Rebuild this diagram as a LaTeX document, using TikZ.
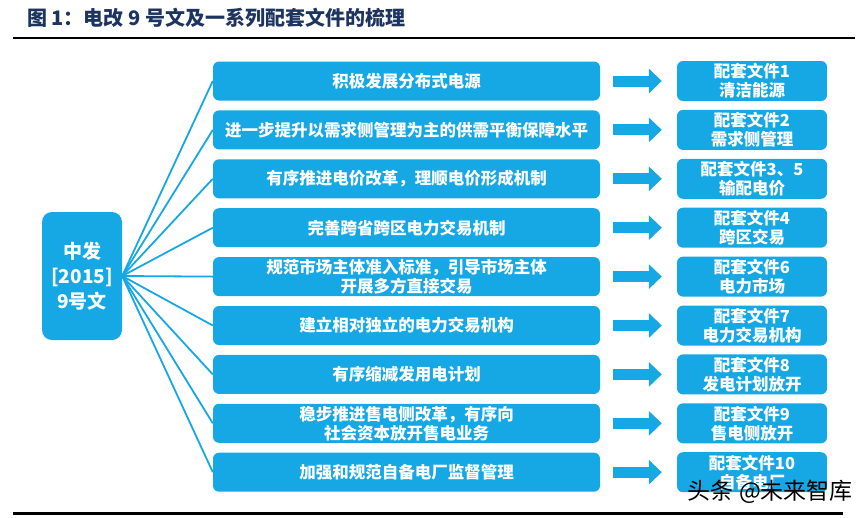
\documentclass[tikz,border=0pt]{standalone}
\usepackage{fontspec}
\newfontfamily\cjk{Noto Sans CJK SC}
\usetikzlibrary{arrows.meta}
\definecolor{boxblue}{RGB}{22,168,228}
\definecolor{titlenavy}{RGB}{30,52,96}

\begin{document}
\begin{tikzpicture}[x=1pt, y=-1pt,
    task/.style={rectangle, rounded corners=6pt, fill=boxblue, text=white,
        minimum width=387pt, minimum height=39pt, inner sep=0pt, align=center,
        font=\cjk\bfseries\fontsize{16.5}{19}\selectfont},
    doc/.style={task, minimum width=150pt, minimum height=40pt},
    link/.style={boxblue, line width=1.8pt},
    fat/.style={boxblue, line width=11pt, -{Triangle[length=13pt, width=24pt]}}]
    \useasboundingbox (0,0) rectangle (866,517);

    \node [anchor=west, inner sep=0pt, text=titlenavy,
        font=\cjk\bfseries\fontsize{20}{20}\selectfont] (title) at (27,18)
        {图 1：电改 9 号文及一系列配套文件的梳理};
    \draw [line width=2.5pt] (13,38) -- (855,38);
    \draw [line width=3pt] (13,513) -- (843,513);

    % source document
    \node [task, minimum width=80pt, minimum height=128pt, rounded corners=10pt,
        font=\cjk\bfseries\fontsize{19}{25}\selectfont] (src) at (82,276)
        {中发\\{}[2015]\\9号文};

    % measures
    \node [task] (t1) at (406.5,81) {积极发展分布式电源};
    \node [task] (t2) at (406.5,129.9) {进一步提升以需求侧管理为主的供需平衡保障水平};
    \node [task] (t3) at (406.5,178.8) {有序推进电价改革，理顺电价形成机制};
    \node [task] (t4) at (406.5,227.7) {完善跨省跨区电力交易机制};
    \node [task] (t5) at (406.5,276.6) {规范市场主体准入标准，引导市场主体\\开展多方直接交易};
    \node [task] (t6) at (406.5,325.5) {建立相对独立的电力交易机构};
    \node [task] (t7) at (406.5,374.4) {有序缩减发用电计划};
    \node [task] (t8) at (406.5,423.3) {稳步推进售电侧改革，有序向\\社会资本放开售电业务};
    \node [task] (t9) at (406.5,472.2) {加强和规范自备电厂监督管理};

    % supporting documents
    \node [doc] (d1) at (752,81) {配套文件1\\清洁能源};
    \node [doc] (d2) at (752,129.9) {配套文件2\\需求侧管理};
    \node [doc] (d3) at (752,178.8) {配套文件3、5\\输配电价};
    \node [doc] (d4) at (752,227.7) {配套文件4\\跨区交易};
    \node [doc] (d5) at (752,276.6) {配套文件6\\电力市场};
    \node [doc] (d6) at (752,325.5) {配套文件7\\电力交易机构};
    \node [doc] (d7) at (752,374.4) {配套文件8\\发电计划放开};
    \node [doc] (d8) at (752,423.3) {配套文件9\\售电侧放开};
    \node [doc] (d9) at (752,472.2) {配套文件10\\自备电厂};

    \draw [link] (src.east) -- (t1.west);
    \draw [link] (src.east) -- (t2.west);
    \draw [link] (src.east) -- (t3.west);
    \draw [link] (src.east) -- (t4.west);
    \draw [link] (src.east) -- (t5.west);
    \draw [link] (src.east) -- (t6.west);
    \draw [link] (src.east) -- (t7.west);
    \draw [link] (src.east) -- (t8.west);
    \draw [link] (src.east) -- (t9.west);

    \draw [fat] ([xshift=13pt]t1.east) -- ([xshift=-15pt]d1.west);
    \draw [fat] ([xshift=13pt]t2.east) -- ([xshift=-15pt]d2.west);
    \draw [fat] ([xshift=13pt]t3.east) -- ([xshift=-15pt]d3.west);
    \draw [fat] ([xshift=13pt]t4.east) -- ([xshift=-15pt]d4.west);
    \draw [fat] ([xshift=13pt]t5.east) -- ([xshift=-15pt]d5.west);
    \draw [fat] ([xshift=13pt]t6.east) -- ([xshift=-15pt]d6.west);
    \draw [fat] ([xshift=13pt]t7.east) -- ([xshift=-15pt]d7.west);
    \draw [fat] ([xshift=13pt]t8.east) -- ([xshift=-15pt]d8.west);
    \draw [fat] ([xshift=13pt]t9.east) -- ([xshift=-15pt]d9.west);

    \node [anchor=east, inner sep=0pt, font=\cjk\fontsize{23}{23}\selectfont] (mark) at (853,492) {头条 @未来智库};
\end{tikzpicture}
\end{document}
